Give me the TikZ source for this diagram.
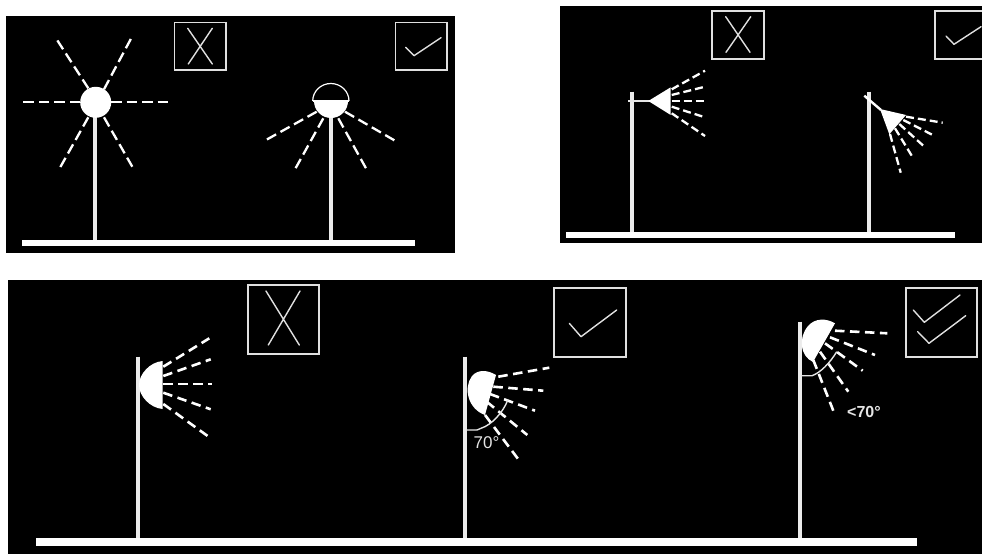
\documentclass[tikz,border=0pt]{standalone}
\usepackage{fontspec}
\setmainfont{Liberation Sans}
\tikzset{
 panel/.style={fill=black,draw=none},
 ground/.style={fill=white,draw=none},
 pole/.style={draw=white!92!black,line width=4pt},
 longray/.style={draw=white,line width=2.3pt,dash pattern=on 10.5pt off 5pt},
 shortray/.style={draw=white,line width=2.3pt,dash pattern=on 8pt off 4pt},
 midray/.style={draw=white,line width=2.6pt,dash pattern=on 9.5pt off 5.5pt},
 lamp/.style={fill=white,draw=none},
 framebox/.style={draw=white!88!black,line width=1.9pt},
 tick/.style={draw=white!88!black,line width=1.4pt,line cap=round,line join=round},
 anglemark/.style={draw=white!90!black,line width=1.4pt},
 lbl/.style={text=white!90!black,inner sep=0pt}
}
\begin{document}
\begin{tikzpicture}[x=1pt,y=-1pt]
\useasboundingbox (0,0) rectangle (982,554);
\fill[white] (0,0) rectangle (982,554);
% panels
\fill[panel] (6,16) rectangle (455,253);
\fill[panel] (560,6) rectangle (982,243);
\fill[panel] (7.5,280) rectangle (982,554);
% panel 1
\fill[ground] (22,240) rectangle (415,245.7);
\draw[pole] (95.4,110) -- (95.4,240);
\draw[pole] (331,115) -- (331,240);
\fill[lamp] (95.7,102.3) circle (15.5);
\draw[longray] (80,102.3) -- (21.7,102.3);
\draw[longray] (111,102.3) -- (170,102.3);
\draw[longray] (88.3,88.3) -- (56,38.3);
\draw[longray] (104,89.3) -- (131.7,37.3);
\draw[longray] (88.3,117.3) -- (60,167.7);
\draw[longray] (104,117.3) -- (132.3,166.7);
\draw[white,line width=1.2pt] (312.7,101) arc (180:360:18.15 and 17.5);
\draw[white,line width=1.6pt] (312.7,101) -- (349,101);
\fill[lamp] (314,101) -- (348,101) arc (0:180:17);
\draw[longray] (316.7,111.7) -- (266,140);
\draw[longray] (323.3,118.3) -- (295,169.3);
\draw[longray] (338.3,118.3) -- (366,168.3);
\draw[longray] (345,111.7) -- (395,140.7);
\draw[framebox] (174.5,22.5) rectangle (226.3,69.7);
\draw[tick] (187.7,28.3) -- (212.3,64) (212.3,28.3) -- (188.3,64);
\draw[framebox] (395.5,22.5) rectangle (446.7,69.7);
\draw[tick] (405.7,47.3) -- (414,55.7) -- (441,37.7);
% panel 2
\fill[ground] (566,232) rectangle (955.3,238);
\draw[pole] (631.5,91.7) -- (631.5,232);
\draw[pole] (869.3,91.7) -- (869.3,232);
\draw[white!90!black,line width=2.4pt] (628.3,100.7) -- (650,100.7);
\fill[lamp] (648.3,101) -- (670.7,87.3) -- (670.7,115) -- cycle;
\draw[shortray] (671.7,89.3) -- (705,70.7);
\draw[shortray] (671.7,95) -- (705,86.7);
\draw[shortray] (671.7,101) -- (705,101);
\draw[shortray] (671.7,106.7) -- (705,117.3);
\draw[shortray] (671.7,113.3) -- (705,136);
\draw[white,line width=2.4pt] (864.3,95.7) -- (881,110);
\fill[lamp] (880,109) -- (906,115) -- (889.3,134.3) -- cycle;
\draw[shortray] (906,116.7) -- (942.7,122.7);
\draw[shortray] (903.3,120) -- (932.7,135);
\draw[shortray] (899.3,124) -- (923.3,145.7);
\draw[shortray] (895,128.3) -- (913.3,158.3);
\draw[shortray] (890,134) -- (900.7,172.7);
\draw[framebox] (711.7,10.7) rectangle (763.7,59);
\draw[tick] (725.7,16.7) -- (750,52.3) (750.7,16.7) -- (726,52.3);
\draw[framebox] (982,10.7) -- (935.3,10.7) -- (935.3,59) -- (982,59);
\draw[tick] (946,36) -- (954,44.3) -- (981,26.7);
% panel 3
\fill[ground] (36,537.7) rectangle (917,545.7);
\draw[pole] (138.3,356.7) -- (138.3,538);
\draw[pole] (465,356.7) -- (465,538);
\draw[pole] (800,321.7) -- (800,538);
% lamp A
\fill[lamp] (162.7,361) .. controls (150,362) and (139,374) .. (139,385)
  .. controls (139,396) and (150,408) .. (162.7,409) -- cycle;
\draw[midray] (163.3,366.7) -- (209.3,338.3);
\draw[midray] (163.3,376) -- (210.7,359.3);
\draw[midray] (163,384) -- (211.7,384);
\draw[midray] (163.3,392.7) -- (210.7,409.3);
\draw[midray] (163.3,404) -- (210,437.7);
\draw[framebox] (247.7,284.7) rectangle (319.3,354.3);
\draw[tick] (266,291) -- (299.3,345) (300,291) -- (268.3,345);
% lamp B
\fill[lamp] (496,375) .. controls (488,370) and (478,369) .. (472,376)
  .. controls (463,388) and (468,409) .. (485,415) -- cycle;
\draw[midray] (498.3,376.7) -- (549.3,367.7);
\draw[midray] (493.3,386.7) -- (543.3,390.7);
\draw[midray] (490,394) -- (535,410.7);
\draw[midray] (486.7,401.7) -- (527.3,435);
\draw[midray] (485,415) -- (518.3,459.3);
\draw[anglemark] (466,430) -- (477,430) -- (481.7,428) .. controls (491,425) and (503,413) .. (508,399.5);
\node[lbl,font=\fontsize{17}{17}\selectfont] (a70) at (486.5,443) {70°};
\draw[framebox] (554.3,288) rectangle (626,357.3);
\draw[tick] (569.3,323.3) -- (581,336.7) -- (616.7,310);
% lamp C
\fill[lamp] (835,323.3) .. controls (826,318) and (815,318) .. (808,326)
  .. controls (798,338) and (800,356) .. (813,362) -- cycle;
\draw[midray] (835,330.7) -- (887.3,333.3);
\draw[midray] (830,337.3) -- (875,355);
\draw[midray] (825,343.3) -- (862.7,370.7);
\draw[midray] (820,351.7) -- (848.3,391.7);
\draw[midray] (813.3,360) -- (835,415);
\draw[anglemark] (801,375.7) -- (812,375.7) .. controls (820,373) and (830,363) .. (836.7,351.7);
\node[lbl,font=\fontsize{16}{16}\selectfont\bfseries] (b70) at (864,412) {<70°};
\draw[framebox] (906,288.3) rectangle (976.7,357.3);
\draw[tick] (913.3,310) -- (924.3,322.3) -- (960,295);
\draw[tick] (917.7,331.7) -- (929,343.3) -- (965.7,315.7);
\end{tikzpicture}
\end{document}
